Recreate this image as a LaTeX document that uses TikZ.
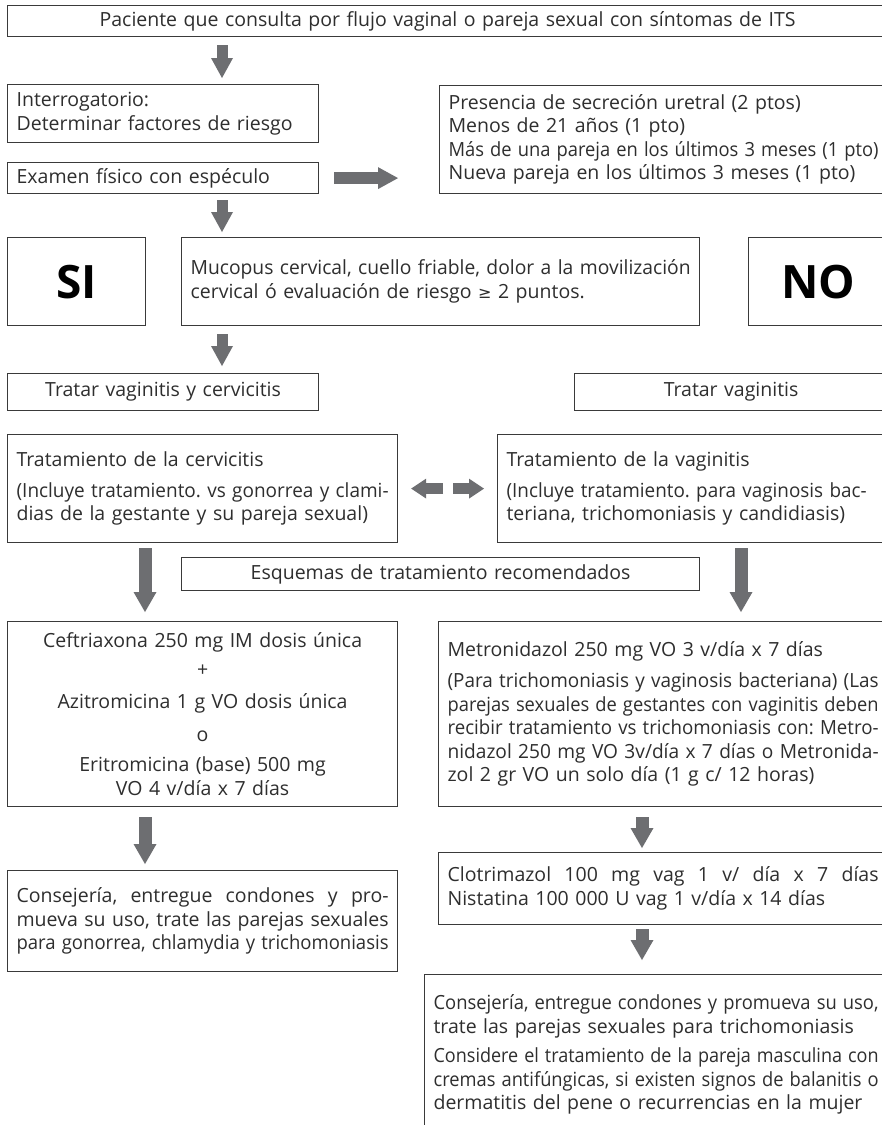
\documentclass[tikz,border=0pt]{standalone}
\usepackage{fontspec}
\setmainfont{Open Sans}
\newfontfamily\symf{DejaVu Sans}
\usepackage{graphicx}
\usetikzlibrary{arrows.meta,calc}
\frenchspacing
\definecolor{linegray}{HTML}{3A3A3A}
\definecolor{txtgray}{HTML}{2E2E2E}
\definecolor{arrowgray}{HTML}{6D6E71}
\newcommand\fitl[2]{\sbox0{#2}\ifdim\wd0>#1\relax\resizebox{#1}{\height}{#2}\else\usebox0\fi}
\newcommand\fitj[2]{\sbox0{#2}\ifdim\wd0>#1\relax\resizebox{#1}{\height}{#2}\else
  \hbox to #1{\spaceskip=\fontdimen2\font plus 1fil\relax #2}\fi}
\tikzset{
  box/.style={draw=linegray, line width=1.2pt, inner xsep=9pt, inner ysep=0pt,
    anchor=north west, text=txtgray, font=\fontsize{19.5}{23.5}\selectfont},
  lbox/.style={box, align=left},
  cbox/.style={box, align=center},
  bigbox/.style={box, align=center, text=black, font=\fontsize{46}{50}\selectfont\bfseries},
  blk/.style={draw=arrowgray, line width=11pt, -{Triangle[width=22pt,length=20pt,line width=0pt]}},
  blkw/.style={draw=arrowgray, line width=13pt, -{Triangle[width=23pt,length=20pt,line width=0pt]}},
  blkh/.style={draw=arrowgray, line width=12pt, -{Triangle[width=22pt,length=20pt,line width=0pt]}},
  blks/.style={draw=arrowgray, line width=10.5pt, -{Triangle[width=20pt,length=15pt,line width=0pt]}},
}
\begin{document}
\begin{tikzpicture}[x=1pt,y=-1pt]
\useasboundingbox (0,0) rectangle (882,1125);
\fill[white] (0,0) rectangle (882,1125);
\clip (0,0) rectangle (882,1125);
\coordinate (ax) at (222,0);
\coordinate (bx) at (145,0);
\coordinate (cx) at (741,0);
\coordinate (dx) at (642,0);

\node[cbox, minimum width=880pt, minimum height=31pt, text width=862pt] (top) at (7,5)
  {Paciente que consulta por flujo vaginal o pareja sexual con síntomas de ITS};

\node[lbox, minimum width=311pt, minimum height=58pt, text width=293pt] (int) at (7,84)
  {Interrogatorio:\\ \fitl{293pt}{Determinar factores de riesgo}};

\node[lbox, minimum width=311pt, minimum height=31pt, text width=293pt] (exam) at (7,162)
  {\fitl{293pt}{Examen físico con espéculo}};

\node[lbox, minimum width=448pt, minimum height=108pt, text width=430pt] (risk) at (439,85)
  {\fitl{430pt}{Presencia de secreción uretral (2 ptos)}\\
   \fitl{430pt}{Menos de 21 años (1 pto)}\\
   \fitl{430pt}{Más de una pareja en los últimos 3 meses (1 pto)}\\
   \fitl{430pt}{Nueva pareja en los últimos 3 meses (1 pto)}};

\node[bigbox, minimum width=138pt, minimum height=88pt] (si) at (7,237) {SI};

\node[lbox, minimum width=518pt, minimum height=88pt, text width=500pt] (muco) at (181,237)
  {\fitl{500pt}{Mucopus cervical, cuello friable, dolor a la movilización}\\
   \fitl{500pt}{cervical ó evaluación de riesgo {\symf\fontsize{16}{20}\selectfont ≥} 2 puntos.}};

\node[bigbox, minimum width=139pt, minimum height=88pt] (no) at (748,237) {NO};

\node[cbox, minimum width=311pt, minimum height=37pt, text width=293pt] (tl) at (7,373)
  {Tratar vaginitis y cervicitis};

\node[cbox, minimum width=313pt, minimum height=37pt, text width=295pt] (tr) at (574,373)
  {Tratar vaginitis};

\node[lbox, minimum width=390pt, minimum height=108pt, text width=372pt] (cerv) at (7,434)
  {Tratamiento de la cervicitis\\[7pt]
   \fitj{372pt}{(Incluye tratamiento. vs gonorrea y clami-}\\
   \fitl{372pt}{dias de la gestante y su pareja sexual)}};

\node[lbox, minimum width=390pt, minimum height=108pt, text width=372pt] (vag) at (497,434)
  {Tratamiento de la vaginitis\\[7pt]
   \fitj{360pt}{(Incluye tratamiento. para vaginosis bac-}\\
   \fitl{372pt}{teriana, trichomoniasis y candidiasis)}};

\node[cbox, minimum width=518pt, minimum height=33pt, text width=500pt] (esq) at (181,557)
  {Esquemas de tratamiento recomendados};

\node[cbox, minimum width=390pt, minimum height=185pt, text width=372pt] (ceft) at (7,621)
  {Ceftriaxona 250 mg IM dosis única\\[5pt]
   +\\[9pt]
   Azitromicina 1 g VO dosis única\\[9pt]
   o\\[7pt]
   Eritromicina (base) 500 mg\\
   VO 4 v/día x 7 días};

\node[lbox, minimum width=449pt, minimum height=185pt, text width=431pt] (metro) at (438,621)
  {\fitl{431pt}{Metronidazol 250 mg VO 3 v/día x 7 días}\\[8pt]
   \fitj{431pt}{(Para trichomoniasis y vaginosis bacteriana) (Las}\\
   \fitj{431pt}{parejas sexuales de gestantes con vaginitis deben}\\
   \fitj{431pt}{recibir tratamiento vs trichomoniasis con: Metro-}\\
   \fitj{431pt}{nidazol 250 mg VO 3v/día x 7 días o Metronida-}\\
   \fitl{431pt}{zol 2 gr VO un solo día (1 g c/ 12 horas)}};

\node[lbox, minimum width=390pt, minimum height=101pt, text width=372pt] (cons) at (7,870)
  {\fitj{372pt}{Consejería, entregue condones y pro-}\\
   \fitj{372pt}{mueva su uso, trate las parejas sexuales}\\
   \fitj{372pt}{para gonorrea, chlamydia y trichomoniasis}};

\node[lbox, minimum width=449pt, minimum height=72pt, text width=431pt] (clot) at (438,852)
  {\fitj{431pt}{Clotrimazol 100 mg vag 1 v/ día x 7 días}\\
   \fitl{431pt}{Nistatina 100 000 U vag 1 v/día x 14 días}};

\node[lbox, minimum width=463pt, inner ysep=20pt, text width=445pt] (final) at (424,974)
  {\fitj{445pt}{Consejería, entregue condones y promueva su uso,}\\
   \fitl{445pt}{trate las parejas sexuales para trichomoniasis}\\[6pt]
   \fitj{445pt}{Considere el tratamiento de la pareja masculina con}\\
   \fitj{445pt}{cremas antifúngicas, si existen signos de balanitis o}\\
   \fitl{445pt}{dermatitis del pene o recurrencias en la mujer}};

% connectors
\draw[blk, shorten <=8pt, shorten >=6pt] (top.south -| ax) -- (int.north -| ax);
\draw[blkh, shorten <=15pt, shorten >=41pt] (exam.east) -- (exam.east -| risk.west);
\draw[blk, shorten <=6pt, shorten >=5pt] (exam.south -| ax) -- (muco.north -| ax);
\draw[blk, shorten <=8pt, shorten >=7pt] (muco.south -| ax) -- (tl.north -| ax);
\draw[blks, shorten <=54pt, shorten >=13pt] (vag.west) -- (cerv.east);
\draw[blks, shorten <=55pt, shorten >=13pt] (cerv.east) -- (vag.west);
\draw[blkw, shorten <=5pt, shorten >=9pt] (cerv.south -| bx) -- (ceft.north -| bx);
\draw[blkw, shorten <=5pt, shorten >=9pt] (vag.south -| cx) -- (metro.north -| cx);
\draw[blkw, shorten <=10pt, shorten >=6pt] (ceft.south -| bx) -- (cons.north -| bx);
\draw[blkw, shorten <=10pt, shorten >=4pt] (metro.south -| dx) -- (clot.north -| dx);
\draw[blkw, shorten <=4pt, shorten >=14pt] (clot.south -| dx) -- (final.north -| dx);
\end{tikzpicture}
\end{document}
